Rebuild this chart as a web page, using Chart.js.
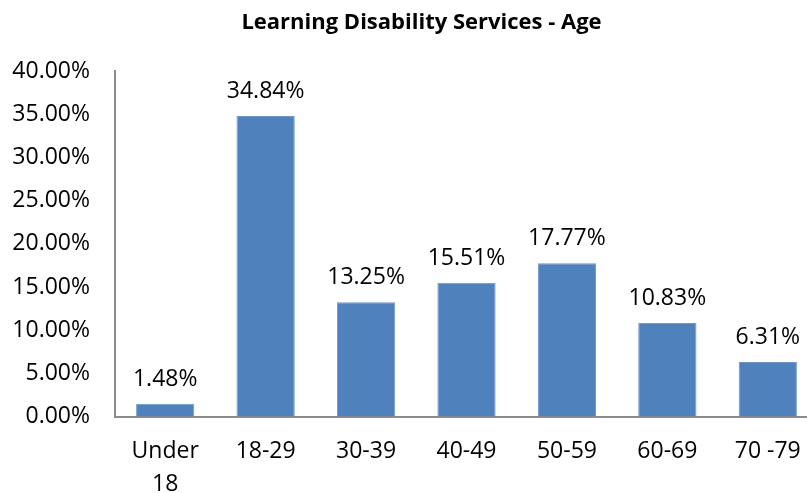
<!DOCTYPE html>
<html>
<head>
<meta charset="utf-8">
<script src="https://cdn.jsdelivr.net/npm/chart.js@4/dist/chart.umd.min.js"></script>
<style>
  html, body { margin: 0; padding: 0; background: #fff; overflow: hidden; }
  #wrap { width: 807px; height: 493px; overflow: hidden; }
</style>
</head>
<body>
<div id="wrap"><canvas id="chart" width="843" height="493"></canvas></div>
<script>
const categories = [['Under', '18'], '18-29', '30-39', '40-49', '50-59', '60-69', '70 -79'];
const percentages = [1.48, 34.84, 13.25, 15.51, 17.77, 10.83, 6.31];
const yTicks = [0, 5, 10, 15, 20, 25, 30, 35, 40];

const FONT = '"Open Sans", "Liberation Sans", sans-serif';

// labels above each bar, positioned from the bar elements
const barLabels = {
    id: 'barLabels',
    afterLayout(chart) {
        // title in the original sits a bit right of the canvas centre
        if (chart.titleBlock) chart.titleBlock.left = 25;
    },
    afterDatasetsDraw(chart) {
        const { ctx } = chart;
        const meta = chart.getDatasetMeta(0);
        ctx.save();
        ctx.font = '23px ' + FONT;
        ctx.fillStyle = '#000';
        ctx.textAlign = 'center';
        ctx.textBaseline = 'alphabetic';
        meta.data.forEach((bar, i) => {
            ctx.fillText(percentages[i].toFixed(2) + '%', bar.x, bar.y - 18);
        });
        ctx.restore();
    }
};

new Chart(document.getElementById('chart'), {
    type: 'bar',
    data: {
        labels: categories,
        datasets: [{
            data: percentages,
            backgroundColor: '#4F81BD',
            borderColor: '#6F97C9',
            borderWidth: 1,
            categoryPercentage: 1,
            barPercentage: 0.58
        }]
    },
    options: {
        responsive: false,
        animation: false,
        // plot runs past the right edge of the picture, like the original
        layout: { padding: { left: 0, right: 25, top: 0, bottom: 0 } },
        plugins: {
            legend: { display: false },
            tooltip: { enabled: false },
            title: {
                display: true,
                text: 'Learning Disability Services - Age',
                color: '#000',
                font: { family: FONT, size: 22, weight: 'bold' },
                padding: { top: 10, bottom: 35 }
            }
        },
        scales: {
            x: {
                afterFit(axis) { axis.height = 76.5; },
                grid: { display: false, drawTicks: false },
                border: { color: '#8c8c8c', width: 2 },
                ticks: {
                    color: '#000',
                    font: { family: FONT, size: 23, lineHeight: 1.43 },
                    padding: 19,
                    maxRotation: 0
                }
            },
            y: {
                min: 0,
                max: 40,
                afterBuildTicks(axis) { axis.ticks = yTicks.map(v => ({ value: v })); },
                afterFit(axis) { axis.width = 115; },
                grid: { display: false, drawTicks: false },
                border: { color: '#8c8c8c', width: 2 },
                ticks: {
                    color: '#000',
                    font: { family: FONT, size: 23 },
                    padding: 25,
                    callback: (v) => v.toFixed(2) + '%'
                }
            }
        }
    },
    plugins: [barLabels]
});
</script>
</body>
</html>
